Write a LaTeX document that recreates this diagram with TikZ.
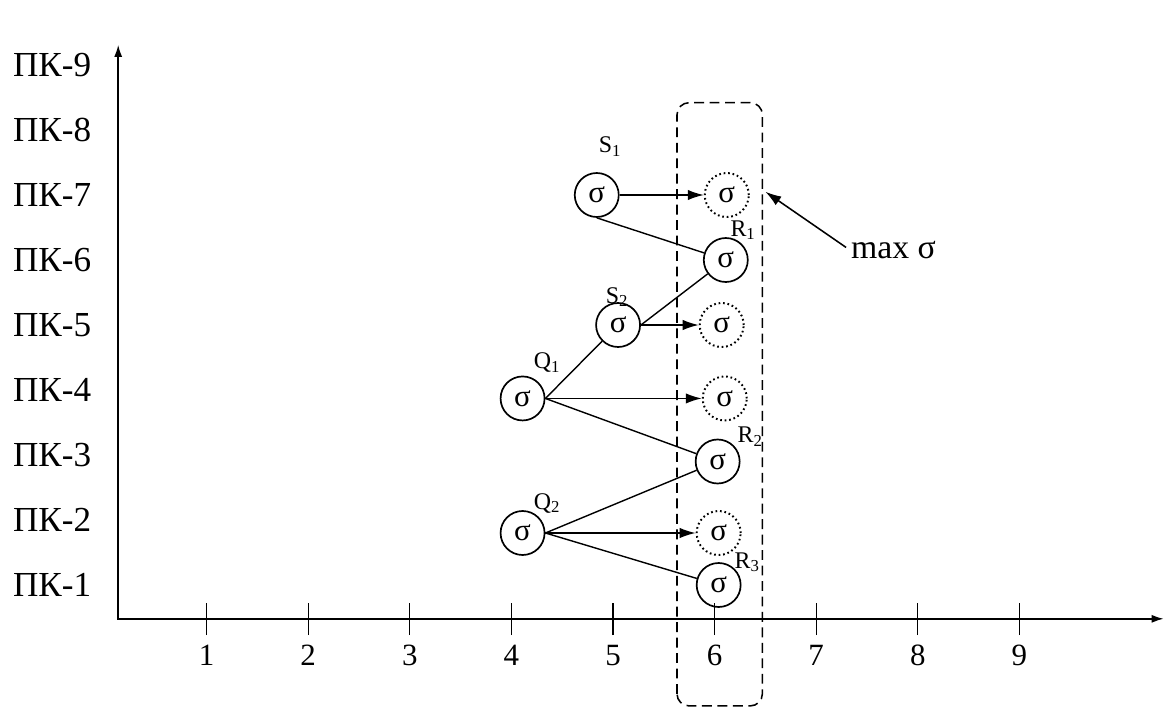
\documentclass[tikz,border=0pt]{standalone}
\usepackage{fontspec}
\setmainfont{Liberation Serif}
\usetikzlibrary{arrows.meta}

\begin{document}
\begin{tikzpicture}[x=2.54cm, y=1.625cm,
  sig/.style={circle, draw, line width=1.2pt, minimum size=1.1cm, inner sep=0pt, font=\fontsize{22}{26}\selectfont},
  ghost/.style={sig, dotted, line width=1.4pt},
  lbl/.style={font=\fontsize{17}{20}\selectfont},
  arr/.style={-{Latex[length=0.4cm,width=0.26cm]}, line width=1.1pt}]

\useasboundingbox (-1.0335,-0.923) rectangle (10.433,10);

% Axes with ticks
\coordinate (ytop) at (0.13,9.31);
\coordinate (xend) at (10.42,0.48);
\draw[line width=1.1pt, {Latex[length=0.3cm,width=0.2cm]}-{Latex[length=0.3cm,width=0.2cm]}] (ytop) |- (xend);
\foreach \x in {1,...,9} {
  \draw[line width=0.8pt] (\x,0.23) -- (\x,0.73);
  \node[font=\fontsize{22}{26}\selectfont] (tick\x) at (\x,-0.08) {\x};
}
\foreach \k in {1,...,9} {
  \node[font=\fontsize{25}{30}\selectfont] (pk\k) at (-0.52,\k) {ПК-\k};
}

% Stations
\node[sig] (s1) at (4.84,7) {σ};
\node[sig] (r1) at (6.11,6) {σ};
\node[sig] (s2) at (5.05,5) {σ};
\node[sig] (q1) at (4.11,3.87) {σ};
\node[sig] (r2) at (6.03,2.9) {σ};
\node[sig] (q2) at (4.11,1.8) {σ};
\node[sig] (r3) at (6.04,1) {σ};

% Projected values
\node[ghost] (g1) at (6.12,7) {σ};
\node[ghost] (g2) at (6.07,5) {σ};
\node[ghost] (g3) at (6.1,3.87) {σ};
\node[ghost] (g4) at (6.04,1.8) {σ};

% Names
\node[lbl] (ls1) at (4.97,7.74) {S\textsubscript{1}};
\node[lbl] (lr1) at (6.28,6.46) {R\textsubscript{1}};
\node[lbl] (ls2) at (5.04,5.43) {S\textsubscript{2}};
\node[lbl] (lq1) at (4.35,4.42) {Q\textsubscript{1}};
\node[lbl] (lr2) at (6.35,3.28) {R\textsubscript{2}};
\node[lbl] (lq2) at (4.35,2.26) {Q\textsubscript{2}};
\node[lbl] (lr3) at (6.32,1.35) {R\textsubscript{3}};

% Links
\draw[line width=1pt] (s1.south) -- (r1);
\draw[line width=1pt] (s2.east) -- (r1);
\draw[line width=1pt] (q1.east) -- (s2);
\draw[line width=1pt] (q1.east) -- (r2);
\draw[line width=1pt] (q2.east) -- (r2);
\draw[line width=1pt] (q2.east) -- (r3);
\draw[arr] (s1) -- (g1);
\draw[arr] (s2.east) -- (g2);
\draw[arr] (q1.east) -- (g3);
\draw[arr] (q2.east) -- (g4);

% Maximum column
\draw[line width=1.1pt, dash pattern=on 7pt off 4pt, rounded corners=0.3cm] (5.63,-0.86) rectangle (6.47,8.42);
\coordinate (hit) at (6.5,7.05);
\node[font=\fontsize{24}{28}\selectfont] (maxs) at (7.76,6.15) {max σ};
\draw[arr] ([yshift=2pt]maxs.west) -- (hit);

\end{tikzpicture}
\end{document}
